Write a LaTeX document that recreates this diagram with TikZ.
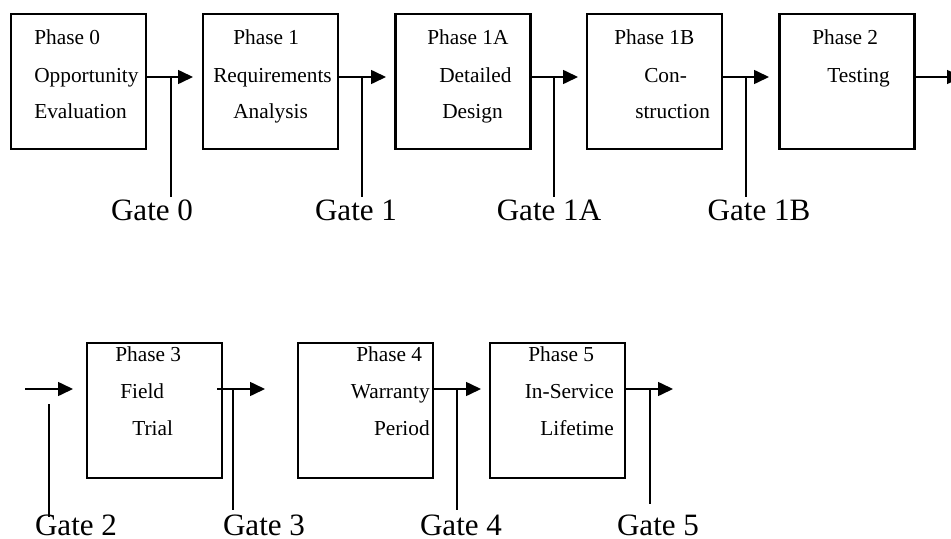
\documentclass[tikz,border=0pt]{standalone}
\usepackage{fontspec}
\setmainfont{Liberation Serif}
\usetikzlibrary{arrows.meta}
\begin{document}
\begin{tikzpicture}[x=0.75pt,y=-0.75pt,
  phasebox/.style={draw,line width=1.6pt,minimum width=101.25pt,minimum height=101.25pt,inner sep=0pt},
  ptxt/.style={inner sep=0pt,font=\fontsize{16}{16}\selectfont},
  gtxt/.style={inner sep=0pt,font=\fontsize{23.3}{23.3}\selectfont},
  flow/.style={line width=1.2pt,-{Triangle[length=11.25pt,width=10.5pt]}},
  gateline/.style={line width=1.2pt}]
\useasboundingbox (0,0) rectangle (951,539);
\fill[white] (0,0) rectangle (951,539);
\clip (0,0) rectangle (951,539);
% top row boxes
\node[phasebox] (b0)  at (78.5,81.5) {};
\node[phasebox] (b1)  at (270.5,81.5) {};
\node[phasebox] (b1A) at (463,81.5) {};
\node[phasebox] (b1B) at (654.5,81.5) {};
\node[phasebox] (b2)  at (847,81.5) {};
% bottom row boxes
\node[phasebox] (b3) at (154.5,410.5) {};
\node[phasebox] (b4) at (365.5,410.5) {};
\node[phasebox] (b5) at (557.5,410.5) {};
% texts top row
\node[ptxt,anchor=base west] (p0a) at (34,44) {Phase 0};
\node[ptxt,anchor=base west] (p0b) at (34,82) {Opportunity};
\node[ptxt,anchor=base west] (p0c) at (34,118) {Evaluation};
\node[ptxt,anchor=base west] (p1a) at (233,44) {Phase 1};
\node[ptxt,anchor=base west] (p1b) at (213,82) {Requirements};
\node[ptxt,anchor=base west] (p1c) at (233,118) {Analysis};
\node[ptxt,anchor=base west] (pAa) at (427,44) {Phase 1A};
\node[ptxt,anchor=base west] (pAb) at (439,82) {Detailed};
\node[ptxt,anchor=base west] (pAc) at (442,118) {Design};
\node[ptxt,anchor=base west] (pBa) at (614,44) {Phase 1B};
\node[ptxt,anchor=base west] (pBb) at (644,82) {Con-};
\node[ptxt,anchor=base west] (pBc) at (635,118) {struction};
\node[ptxt,anchor=base west] (p2a) at (812,44) {Phase 2};
\node[ptxt,anchor=base west] (p2b) at (827,82) {Testing};
% texts bottom row
\node[ptxt,anchor=base west] (p3a) at (115,361) {Phase 3};
\node[ptxt,anchor=base west] (p3b) at (120,398) {Field};
\node[ptxt,anchor=base west] (p3c) at (132,435) {Trial};
\node[ptxt,anchor=base west] (p4a) at (356,361) {Phase 4};
\node[ptxt,anchor=base east] (p4b) at (430,398) {Warranty};
\node[ptxt,anchor=base east] (p4c) at (430,435) {Period};
\node[ptxt,anchor=base west] (p5a) at (528,361) {Phase 5};
\node[ptxt,anchor=base east] (p5b) at (614,398) {In-Service};
\node[ptxt,anchor=base east] (p5c) at (614,435) {Lifetime};
% gate labels
\node[gtxt,anchor=base] (G0)  at (152,220) {Gate 0};
\node[gtxt,anchor=base] (G1)  at (356,220) {Gate 1};
\node[gtxt,anchor=base] (G1A) at (549,220) {Gate 1A};
\node[gtxt,anchor=base] (G1B) at (759,220) {Gate 1B};
\node[gtxt,anchor=base] (G2)  at (76,535) {Gate 2};
\node[gtxt,anchor=base] (G3)  at (264,535) {Gate 3};
\node[gtxt,anchor=base] (G4)  at (461,535) {Gate 4};
\node[gtxt,anchor=base] (G5)  at (658,535) {Gate 5};
% arrow tips
\coordinate (t0)  at (193,77);
\coordinate (t1)  at (386,77);
\coordinate (t1A) at (578,77);
\coordinate (t1B) at (769,77);
\coordinate (t2)  at (962,77);
\coordinate (s2)  at (25,389);
\coordinate (t2b) at (73,389);
\coordinate (s3)  at (217,389);
\coordinate (t3)  at (265,389);
\coordinate (t4)  at (481,389);
\coordinate (t5)  at (673,389);
% gate line points
\coordinate (g0a) at (171,77);  \coordinate (g0b) at (171,197);
\coordinate (g1a) at (362,77);  \coordinate (g1b) at (362,197);
\coordinate (gAa) at (554,77);  \coordinate (gAb) at (554,197);
\coordinate (gBa) at (746,77);  \coordinate (gBb) at (746,197);
\coordinate (g2a) at (49,404);  \coordinate (g2b) at (49,517);
\coordinate (g3a) at (233,389); \coordinate (g3b) at (233,510);
\coordinate (g4a) at (457,389); \coordinate (g4b) at (457,510);
\coordinate (g5a) at (650,389); \coordinate (g5b) at (650,504);
% flow arrows
\draw[flow] (t0 -| b0.east) -- (t0);
\draw[flow] (t1 -| b1.east) -- (t1);
\draw[flow] (t1A -| b1A.east) -- (t1A);
\draw[flow] (t1B -| b1B.east) -- (t1B);
\draw[flow] (t2 -| b2.east) -- (t2);
\draw[flow] (s2) -- (t2b);
\draw[flow] (s3) -- (t3);
\draw[flow] (t4 -| b4.east) -- (t4);
\draw[flow] (t5 -| b5.east) -- (t5);
% gate lines
\draw[gateline] (g0a) -- (g0b);
\draw[gateline] (g1a) -- (g1b);
\draw[gateline] (gAa) -- (gAb);
\draw[gateline] (gBa) -- (gBb);
\draw[gateline] (g2a) -- (g2b);
\draw[gateline] (g3a) -- (g3b);
\draw[gateline] (g4a) -- (g4b);
\draw[gateline] (g5a) -- (g5b);
\end{tikzpicture}
\end{document}
